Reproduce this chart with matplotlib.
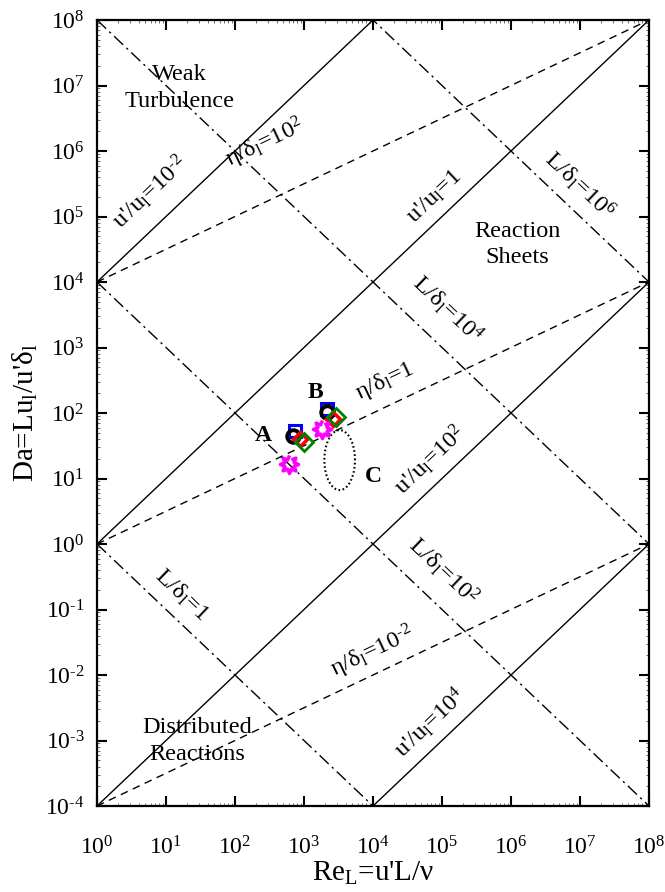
import numpy as np
import matplotlib
matplotlib.use("Agg")
import matplotlib.pyplot as plt
from matplotlib.ticker import LogLocator, NullFormatter, FixedLocator

plt.rcParams['font.family'] = ['Liberation Serif', 'DejaVu Serif']
plt.rcParams['mathtext.fontset'] = 'custom'
plt.rcParams['mathtext.rm'] = 'Liberation Serif'
plt.rcParams['mathtext.it'] = 'Liberation Serif:italic'
plt.rcParams['mathtext.bf'] = 'Liberation Serif:bold'
plt.rcParams['lines.scale_dashes'] = False

# Regime boundaries
u_ratios = [1e-2, 1.0, 1e2, 1e4]          # u'/u_l   -> Da = Re / (u'/u_l)^2
L_ratios = [1.0, 1e2, 1e4, 1e6]           # L/delta_l -> Da = (L/delta_l)^2 / Re
eta_ratios = [1e-2, 1.0, 1e2]             # eta/delta_l -> Da = (eta/delta_l)^2 * Re^0.5

# Operating points (Re_L, Da) for cases A and B
circle_re = [700, 2180]
circle_da = [44, 105]
square_re = [740, 2130]
square_da = [54, 114]
red_re = [875, 2600]
red_da = [40, 80]
green_re = [1000, 2880]
green_da = [36.5, 88]
star_re = [610, 1800]
star_da = [16.6, 56]

# Region C (ellipse in log space): centre, half-axes in decades
c_center = (3290, 19.1)
c_halfaxes = (0.222, 0.458)

# Tick exponents
x_exponents = list(range(0, 9))
y_exponents = list(range(-4, 9))

W, H = 665, 892
fig = plt.figure(figsize=(W / 100, H / 100), dpi=100)
ax = fig.add_axes([97 / W, 1 - 806 / H, (649 - 97) / W, (806 - 20) / H])
ax.set_xscale('log')
ax.set_yscale('log')
ax.set_xlim(1, 1e8)
ax.set_ylim(1e-4, 1e8)

re = np.logspace(0, 8, 400)
lw = 1.0
for u in u_ratios:
    ax.plot(re, re / u**2, color='black', lw=lw, solid_capstyle='butt')
for L in L_ratios:
    ax.plot(re, L**2 / re, color='black', lw=lw, dashes=(9, 3.2, 1.6, 3.2))
for e in eta_ratios:
    ax.plot(re, e**2 * np.sqrt(re), color='black', lw=lw, dashes=(5.5, 4))

# Region C
t = np.linspace(0, 2 * np.pi, 200)
ex = 10 ** (np.log10(c_center[0]) + c_halfaxes[0] * np.cos(t))
ey = 10 ** (np.log10(c_center[1]) + c_halfaxes[1] * np.sin(t))
ax.plot(ex, ey, color='black', lw=1.5, dashes=(1.2, 1.8))

# Markers
star8 = [(np.cos(a) * r, np.sin(a) * r) for a, r in
         zip(np.linspace(np.pi / 2, np.pi / 2 + 2 * np.pi, 17)[:-1], [1, 0.55] * 8)]
ax.plot(square_re, square_da, ls='none', marker='s', ms=9, mfc='none', mec='#0000ff', mew=2.2)
ax.plot(circle_re, circle_da, ls='none', marker='o', ms=9, mfc='none', mec='black', mew=2.8)
ax.plot(red_re, red_da, ls='none', marker='D', ms=7, mfc='none', mec='#ff0000', mew=2.5)
ax.plot(green_re, green_da, ls='none', marker='D', ms=9, mfc='none', mec='#008000', mew=2.0)
ax.plot(star_re, star_da, ls='none', marker=star8, ms=13, mfc='none', mec='#ff00ff', mew=2.5)

# Ticks
def exp_label(k):
    return r'$10^{\text{%d}}$' % k if k >= 0 else r'$10^{\text{-%d}}$' % (-k)

ax.xaxis.set_major_locator(FixedLocator([10.0**k for k in x_exponents]))
ax.yaxis.set_major_locator(FixedLocator([10.0**k for k in y_exponents]))
ax.xaxis.set_minor_locator(LogLocator(base=10, subs=np.arange(2, 10), numticks=100))
ax.yaxis.set_minor_locator(LogLocator(base=10, subs=np.arange(2, 10), numticks=100))
ax.xaxis.set_minor_formatter(NullFormatter())
ax.yaxis.set_minor_formatter(NullFormatter())
ax.set_xticklabels([exp_label(k) for k in x_exponents])
ax.set_yticklabels([exp_label(k) for k in y_exponents])
ax.tick_params(which='major', direction='in', length=7, width=1.5, top=True, right=True,
               labelsize=17)
ax.tick_params(axis='x', which='major', pad=22)
ax.tick_params(axis='y', which='major', pad=9)
ax.tick_params(which='minor', direction='in', length=2, width=0.4, top=True, right=True)
for s in ax.spines.values():
    s.set_linewidth(1.6)

ax.set_xlabel("Re$_{\\rm L}$=u'L/ν", fontsize=21, labelpad=0)
ax.set_ylabel("Da=Lu$_{\\rm l}$/u'δ$_{\\rm l}$", fontsize=21, labelpad=4)

# Label angles follow the line slopes on screen
p0 = ax.transData.transform((1, 1))
p1 = ax.transData.transform((10, 10))
p2 = ax.transData.transform((10, np.sqrt(10)))
ang1 = np.degrees(np.arctan2(p1[1] - p0[1], p1[0] - p0[0]))
ang_half = np.degrees(np.arctan2(p2[1] - p0[1], p2[0] - p0[0]))

fs = 17.5
def lab(lx, ly, s, rot=0, **kw):
    ax.text(10**lx, 10**ly, s, rotation=rot, ha='center', va='center',
            rotation_mode='anchor', fontsize=kw.pop('fontsize', fs), **kw)

lab(1.19, 6.96, 'Weak\nTurbulence', linespacing=1.35)
lab(6.09, 4.57, 'Reaction\nSheets', linespacing=1.35)
lab(1.45, -3.01, 'Distributed\nReactions', linespacing=1.35)

lab(0.77, 5.37, "u'/u$_{\\rm l}$=10$^{\\text{-2}}$", ang1)
lab(4.90, 5.30, "u'/u$_{\\rm l}$=1", ang1)
lab(4.83, 1.28, "u'/u$_{\\rm l}$=10$^{2}$", ang1)
lab(4.83, -2.73, "u'/u$_{\\rm l}$=10$^{4}$", ang1)

lab(7.00, 5.48, "L/δ$_{\\rm l}$=10$^{6}$", -ang1)
lab(5.08, 3.58, "L/δ$_{\\rm l}$=10$^{4}$", -ang1)
lab(5.02, -0.42, "L/δ$_{\\rm l}$=10$^{2}$", -ang1)
lab(1.23, -0.78, "L/δ$_{\\rm l}$=1", -ang1)

lab(2.44, 6.12, "η/δ$_{\\rm l}$=10$^{2}$", ang_half)
lab(4.17, 2.48, "η/δ$_{\\rm l}$=1", ang_half)
lab(3.99, -1.65, "η/δ$_{\\rm l}$=10$^{\\text{-2}}$", ang_half)

lab(2.41, 1.65, 'A', fontweight='bold', fontsize=17)
lab(3.16, 2.32, 'B', fontweight='bold', fontsize=17)
lab(4.00, 1.03, 'C', fontweight='bold', fontsize=17)

fig.savefig('out.png', dpi=100)
